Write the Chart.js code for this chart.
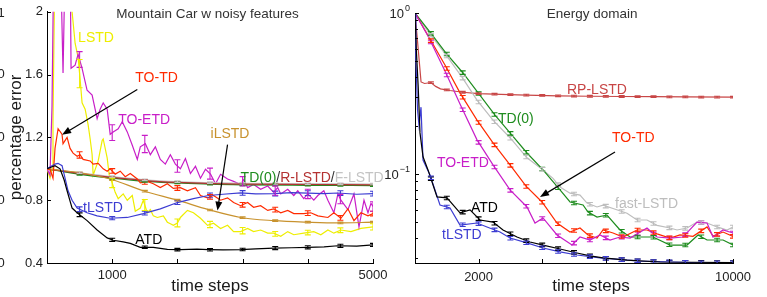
<!DOCTYPE html>
<html>
<head>
<meta charset="utf-8">
<script src="https://cdn.jsdelivr.net/npm/chart.js@4.4.0/dist/chart.umd.min.js"></script>
<style>
  html, body { margin: 0; padding: 0; background: #fff; }
  #wrap { position: relative; width: 767px; height: 297px; overflow: hidden; background: #fff; }
  #wrap canvas { position: absolute; left: 0; top: 0; }
</style>
</head>
<body>
<div id="wrap">
  <canvas id="mcChart" width="767" height="297"></canvas>
  <canvas id="enChart" width="767" height="297"></canvas>
</div>
<script>
// ---- Mountain Car (left) : [time step, percentage error]
const mcTicksX = [1000, 2000, 3000, 4000, 5000];
const mcLabelsX = [1000, 5000];
const mcTicksY = [0.4, 0.8, 1.2, 1.6, 2];
const mcErrT = [500, 1000, 1500, 2000, 2500, 3000, 3500, 4000, 4500, 5000];

const mcLSTD = [[0,1.0],[46,0.94],[77,1.0],[92,1.3],[123,2.4],[200,2.6],[300,2.3],[385,2.0],[431,1.8],[477,1.71],[508,1.57],[538,1.42],[585,1.38],[631,1.28],[662,1.19],[692,1.09],[708,0.96],[785,1.05],[846,1.18],[862,1.19],[923,1.07],[954,0.96],[1000,0.91],[1046,0.85],[1092,0.81],[1169,0.84],[1231,0.80],[1308,0.83],[1354,0.73],[1431,0.75],[1477,0.80],[1538,0.72],[1585,0.74],[1631,0.70],[1692,0.69],[1785,0.70],[1846,0.66],[1892,0.65],[1938,0.64],[2000,0.655],[2046,0.69],[2154,0.735],[2246,0.72],[2354,0.685],[2462,0.64],[2554,0.653],[2662,0.62],[2769,0.64],[2862,0.60],[2969,0.60],[3077,0.62],[3169,0.60],[3277,0.61],[3385,0.59],[3477,0.59],[3585,0.57],[3692,0.60],[3785,0.58],[3938,0.59],[4092,0.60],[4200,0.58],[4308,0.61],[4400,0.59],[4508,0.61],[4662,0.60],[4815,0.62],[5000,0.63]];
const mcTOTD = [[0,1.0],[46,0.997],[92,0.94],[123,1.13],[170,1.255],[230,1.22],[246,1.16],[308,1.2],[354,1.13],[400,1.10],[462,1.08],[508,1.09],[554,1.06],[662,1.05],[708,1.03],[785,1.035],[862,1.0],[923,0.985],[969,1.0],[1046,0.966],[1123,0.985],[1200,0.95],[1277,0.97],[1385,0.935],[1431,0.91],[1538,0.92],[1631,0.905],[1738,0.88],[1846,0.905],[1938,0.875],[2046,0.88],[2154,0.86],[2277,0.88],[2354,0.83],[2462,0.815],[2554,0.83],[2662,0.80],[2769,0.815],[2862,0.785],[2969,0.765],[3077,0.785],[3169,0.755],[3277,0.765],[3385,0.735],[3477,0.745],[3585,0.72],[3692,0.735],[3785,0.715],[3938,0.715],[4046,0.72],[4154,0.70],[4308,0.69],[4400,0.72],[4508,0.685],[4615,0.745],[4708,0.67],[4815,0.72],[4923,0.70],[5000,0.715]];
const mcTOETD = [[0,1.0],[46,0.96],[77,1.4],[108,2.5],[154,2.7],[215,2.2],[246,1.61],[277,2.3],[323,2.5],[354,2.4],[369,1.64],[431,1.66],[477,1.73],[538,1.64],[615,1.50],[692,1.47],[738,1.38],[769,1.32],[815,1.38],[862,1.42],[923,1.38],[969,1.22],[1015,1.235],[1092,1.255],[1154,1.30],[1231,1.235],[1308,1.15],[1385,1.06],[1431,1.14],[1508,1.16],[1585,1.09],[1662,1.14],[1738,1.06],[1815,1.03],[1892,1.09],[1969,1.03],[2046,1.0],[2123,1.065],[2200,0.97],[2277,1.016],[2354,0.94],[2431,0.997],[2508,0.966],[2585,0.905],[2662,0.965],[2769,0.935],[2862,0.92],[2969,0.90],[3015,0.93],[3077,0.88],[3169,0.90],[3277,0.87],[3385,0.89],[3477,0.85],[3538,0.88],[3585,0.84],[3692,0.87],[3785,0.83],[3846,0.86],[3938,0.81],[4000,0.84],[4092,0.80],[4154,0.83],[4246,0.86],[4308,0.80],[4400,0.72],[4462,0.84],[4508,0.80],[4615,0.74],[4708,0.84],[4785,0.63],[4862,0.80],[4923,0.72],[4969,0.78],[5000,0.76]];
const mcILSTD = [[0,1.0],[500,0.975],[969,0.935],[1477,0.86],[2000,0.80],[2477,0.74],[2970,0.69],[3477,0.67],[4000,0.66],[4460,0.655],[5000,0.66]];
const mcTD0 = [[0,1.0],[500,0.965],[1000,0.94],[1500,0.92],[2000,0.91],[2500,0.902],[3000,0.898],[4000,0.895],[5000,0.893]];
const mcRLSTD = [[0,1.0],[500,0.97],[1000,0.945],[1500,0.925],[2000,0.913],[2500,0.906],[3000,0.902],[4000,0.9],[5000,0.898]];
const mcFLSTD = [[0,1.0],[500,0.975],[1000,0.95],[1500,0.93],[2000,0.918],[2500,0.912],[3000,0.908],[4000,0.905],[5000,0.903]];
const mcTLSTD = [[0,1.0],[123,1.03],[169,1.035],[231,1.02],[277,0.94],[323,0.86],[385,0.80],[462,0.75],[615,0.72],[769,0.70],[969,0.685],[1231,0.69],[1477,0.715],[1738,0.745],[2000,0.785],[2246,0.81],[2477,0.83],[2700,0.838],[2970,0.847],[3200,0.84],[3477,0.842],[3750,0.848],[4000,0.845],[4250,0.842],[4460,0.846],[4750,0.838],[5000,0.842]];
const mcATD = [[0,1.0],[123,1.02],[200,1.0],[262,0.93],[308,0.86],[385,0.75],[462,0.72],[615,0.67],[769,0.61],[923,0.56],[1015,0.545],[1169,0.535],[1277,0.525],[1431,0.50],[1631,0.50],[1846,0.487],[2046,0.485],[2300,0.488],[2477,0.485],[2700,0.483],[2970,0.485],[3200,0.49],[3477,0.495],[3750,0.497],[4000,0.50],[4250,0.503],[4460,0.51],[4750,0.508],[5000,0.515]];

// half widths of the error bars at mcErrT
const mcLSTDErr = [0.09, 0.03, 0.035, 0.025, 0.02, 0.02, 0.015, 0.015, 0.015, 0.02];
const mcTOTDErr = [0.02, 0.015, 0.015, 0.015, 0.015, 0.015, 0.015, 0.015, 0.015, 0.015];
const mcTOETDErr = [0.05, 0.05, 0.055, 0.04, 0.035, 0.03, 0.03, 0.03, 0.03, 0.03];
const mcTLSTDErr = [0.015, 0.01, 0.012, 0.012, 0.015, 0.015, 0.015, 0.015, 0.015, 0.015];
const mcATDErr = [0.012, 0.01, 0.008, 0.008, 0.008, 0.008, 0.01, 0.01, 0.01, 0.01];
const mcSmallErr = 0.005;

// ---- Energy domain (right), log y
const enTicksX = [2000, 4000, 6000, 8000, 10000];
const enLabelsX = [2000, 10000];
const enMajorY = [0.1, 1];
const enMinorY = [0.03, 0.04, 0.05, 0.06, 0.07, 0.08, 0.09, 0.2, 0.3, 0.4, 0.5, 0.6, 0.7, 0.8, 0.9];
const enErrT = [500,1000,1500,2000,2500,3000,3500,4000,4500,5000,5500,6000,6500,7000,7500,8000,8500,9000,9500,10000];

const enRPLSTD = [[0,1.0],[100,0.6],[190,0.373],[300,0.365],[500,0.37],[650,0.35],[800,0.338],[1100,0.33],[1500,0.322],[2000,0.316],[2700,0.312],[3500,0.309],[4500,0.306],[5500,0.304],[6500,0.303],[7500,0.302],[8500,0.301],[10000,0.30]];
const enTD0 = [[0,1.0],[472,0.76],[975,0.564],[1510,0.424],[2516,0.232],[2988,0.18],[3522,0.135],[4026,0.106],[4560,0.0796],[4875,0.067],[5284,0.0642],[5441,0.058],[5724,0.054],[6038,0.0556],[6447,0.0449],[6761,0.0406],[7485,0.0406],[8020,0.0362],[8554,0.0362],[8900,0.0418],[9184,0.0389],[9687,0.0389],[10000,0.0362]];
const enFastLSTD = [[0,1.0],[472,0.74],[975,0.55],[1478,0.40],[1950,0.288],[2453,0.216],[2988,0.168],[3522,0.126],[4026,0.106],[4340,0.094],[4560,0.083],[4875,0.076],[5189,0.074],[5409,0.066],[5724,0.0624],[5913,0.064],[6227,0.061],[6667,0.057],[6982,0.0518],[7296,0.0518],[7611,0.048],[8020,0.0462],[8240,0.0449],[8554,0.0462],[8869,0.0503],[9184,0.0496],[9498,0.0469],[9813,0.0449],[10000,0.0469]];
const enTOTD = [[0,1.0],[943,0.475],[1415,0.319],[1950,0.216],[2453,0.156],[2988,0.114],[3491,0.084],[3994,0.067],[4466,0.0496],[4875,0.0436],[5189,0.0462],[5441,0.0418],[5724,0.040],[5913,0.0449],[6227,0.043],[6542,0.0406],[6982,0.0449],[7296,0.0449],[7611,0.0425],[8020,0.040],[8334,0.0418],[8743,0.041],[9184,0.0469],[9372,0.0412],[9687,0.0436],[10000,0.041]];
const enTOETD = [[0,1.0],[409,0.72],[943,0.436],[1415,0.272],[1950,0.163],[2453,0.114],[2988,0.0796],[3522,0.0624],[3774,0.0496],[4026,0.0533],[4466,0.0418],[4938,0.0362],[5189,0.0406],[5504,0.0389],[5818,0.0418],[6133,0.0389],[6447,0.0406],[6761,0.040],[7296,0.0462],[7611,0.0406],[8020,0.040],[8429,0.0406],[8869,0.0503],[9184,0.0496],[9372,0.0406],[9687,0.0449],[10000,0.043]];
const enATD = [[0,1.0],[40,0.6],[100,0.35],[157,0.18],[252,0.128],[409,0.106],[692,0.072],[1006,0.071],[1415,0.0573],[1730,0.0598],[2044,0.0518],[2453,0.0503],[2768,0.0449],[3208,0.0406],[3617,0.0378],[4026,0.0362],[4560,0.0342],[5095,0.0323],[5504,0.031],[5913,0.0301],[6667,0.0292],[7705,0.0284],[8743,0.0283],[10000,0.0282]];
const enTLSTD = [[0,1.0],[30,0.5],[80,0.25],[126,0.2],[189,0.26],[252,0.122],[472,0.0986],[786,0.0642],[1101,0.0615],[1415,0.0482],[1950,0.0496],[2264,0.0469],[2673,0.0436],[2988,0.040],[3522,0.0373],[4026,0.0347],[4560,0.0328],[5095,0.0314],[5818,0.0301],[7075,0.0288],[8963,0.0281],[10000,0.0281]];
const enErr = 0.025;

const FONT = "'Liberation Sans', Arial, Helvetica, sans-serif";
const C = {
  yellow: '#eeee00', red: '#ff2a00', magenta: '#c81ec8', orange: '#c8922e',
  green: '#1e8c1e', darkred: '#b43232', gray: '#c4c4c4', blue: '#3c3cd2',
  black: '#000000', rp: '#c84646', fast: '#bdbdbd'
};

function valueAt(data, t, isLog) {
  for (let i = 1; i < data.length; i++) {
    const [x0, y0] = data[i - 1], [x1, y1] = data[i];
    if (t <= x1) {
      const f = (t - x0) / (x1 - x0);
      return isLog ? Math.exp(Math.log(y0) + f * (Math.log(y1) - Math.log(y0))) : y0 + f * (y1 - y0);
    }
  }
  return data[data.length - 1][1];
}

function series(label, data, color, err, smooth) {
  return {
    label, data, err,
    borderColor: color, backgroundColor: color,
    borderWidth: 1.2, pointRadius: 0, fill: false,
    tension: 0, cubicInterpolationMode: smooth ? 'monotone' : 'default'
  };
}

// error bars, inward ticks, labels, arrows, titles
const decor = {
  id: 'decor',
  afterDatasetsDraw(chart, args, o) {
    const { ctx, chartArea: a, scales: { x, y } } = chart;
    const isLog = y.type === 'logarithmic';
    ctx.save();
    ctx.beginPath();
    ctx.rect(a.left, a.top - 1, a.right - a.left, a.bottom - a.top + 1);
    ctx.clip();
    ctx.lineWidth = 1.1;
    chart.data.datasets.forEach(ds => {
      if (ds.err === undefined) return;
      o.errT.forEach((t, i) => {
        const v = valueAt(ds.data, t, isLog);
        const e = Array.isArray(ds.err) ? ds.err[i] : ds.err;
        const lo = isLog ? v * (1 - e) : v - e;
        const hi = isLog ? v * (1 + e) : v + e;
        const px = x.getPixelForValue(t);
        const p1 = y.getPixelForValue(lo), p2 = y.getPixelForValue(hi);
        ctx.strokeStyle = ds.borderColor;
        ctx.beginPath();
        ctx.moveTo(px, p1); ctx.lineTo(px, p2);
        ctx.moveTo(px - 3, p1); ctx.lineTo(px + 3, p1);
        ctx.moveTo(px - 3, p2); ctx.lineTo(px + 3, p2);
        ctx.stroke();
      });
    });
    ctx.restore();
  },
  afterDraw(chart, args, o) {
    const { ctx, chartArea: a, scales: { x, y } } = chart;
    ctx.save();
    // inward ticks
    ctx.strokeStyle = '#000';
    ctx.lineWidth = 1;
    x.ticks.forEach(tk => {
      const px = Math.round(x.getPixelForValue(tk.value)) + 0.5;
      ctx.beginPath(); ctx.moveTo(px, a.bottom); ctx.lineTo(px, a.bottom - 4); ctx.stroke();
    });
    y.ticks.forEach(tk => {
      const py = Math.round(y.getPixelForValue(tk.value)) + 0.5;
      ctx.beginPath(); ctx.moveTo(a.left, py); ctx.lineTo(a.left + 4, py); ctx.stroke();
    });
    (o.minorY || []).forEach(v => {
      const py = Math.round(y.getPixelForValue(v)) + 0.5;
      ctx.beginPath(); ctx.moveTo(a.left, py); ctx.lineTo(a.left + 3, py); ctx.stroke();
    });

    // powers of ten for the log axis
    (o.powLabels || []).forEach(v => {
      const py = y.getPixelForValue(v);
      const ex = String(Math.round(Math.log10(v))).replace('-', '\u2212');
      ctx.fillStyle = '#222';
      ctx.textBaseline = 'middle';
      ctx.textAlign = 'right';
      ctx.font = `9px ${FONT}`;
      const ew = ctx.measureText(ex).width;
      ctx.fillText(ex, a.left - 5, py - 4);
      ctx.font = `13px ${FONT}`;
      ctx.fillText('10', a.left - 6 - ew, py + 1);
    });

    // cut-off labels of the neighbouring panel
    ctx.font = `13px ${FONT}`;
    ctx.fillStyle = '#222';
    ctx.textAlign = 'left';
    ctx.textBaseline = 'middle';
    (o.edge || []).forEach(e => ctx.fillText(e.text, -2.5, y.getPixelForValue(e.v)));

    // series labels
    ctx.font = `14px ${FONT}`;
    o.labels.forEach(l => {
      let px = x.getPixelForValue(l.t);
      const py = y.getPixelForValue(l.y);
      l.parts.forEach(p => {
        ctx.fillStyle = p.color;
        ctx.fillText(p.text, px, py);
        px += ctx.measureText(p.text).width;
      });
    });

    // arrows
    ctx.strokeStyle = '#000';
    ctx.fillStyle = '#000';
    ctx.lineWidth = 1.2;
    o.arrows.forEach(ar => {
      const x0 = x.getPixelForValue(ar.from[0]), y0 = y.getPixelForValue(ar.from[1]);
      const x1 = x.getPixelForValue(ar.to[0]), y1 = y.getPixelForValue(ar.to[1]);
      const ang = Math.atan2(y1 - y0, x1 - x0);
      const c = Math.cos(ang), s = Math.sin(ang);
      ctx.beginPath();
      ctx.moveTo(x0, y0);
      ctx.lineTo(x1 - 6 * c, y1 - 6 * s);
      ctx.stroke();
      ctx.beginPath();
      ctx.moveTo(x1, y1);
      ctx.lineTo(x1 - 9 * c + 3.5 * s, y1 - 9 * s - 3.5 * c);
      ctx.lineTo(x1 - 9 * c - 3.5 * s, y1 - 9 * s + 3.5 * c);
      ctx.closePath();
      ctx.fill();
    });

    // titles
    ctx.textAlign = 'center';
    ctx.fillStyle = '#333';
    ctx.font = `13.5px ${FONT}`;
    ctx.fillText(o.title.text, x.getPixelForValue(o.title.t), 14);
    ctx.fillStyle = '#1a1a1a';
    ctx.font = `17px ${FONT}`;
    ctx.fillText(o.xTitle.text, x.getPixelForValue(o.xTitle.t), 286);
    if (o.yTitle) {
      ctx.translate(16, (a.top + a.bottom) / 2);
      ctx.rotate(-Math.PI / 2);
      ctx.fillText(o.yTitle, 0, 0);
    }
    ctx.restore();
  }
};

function axisX(min, max, ticks, labels, pad) {
  return {
    type: 'linear', min, max,
    afterBuildTicks: s => { s.ticks = ticks.map(v => ({ value: v })); },
    afterFit: s => { s.height = 34; },
    ticks: {
      autoSkip: false, maxRotation: 0, padding: pad, color: '#222',
      font: { family: FONT, size: 13 },
      callback: v => labels.includes(v) ? String(v) : ''
    },
    grid: { display: true, drawOnChartArea: false, drawTicks: false },
    border: { display: true, color: '#000', width: 1 }
  };
}

const mcDatasets = [
  series('ATD', mcATD, C.black, mcATDErr),
  series('tLSTD', mcTLSTD, C.blue, mcTLSTDErr),
  series('TO-TD', mcTOTD, C.red, mcTOTDErr),
  series('iLSTD', mcILSTD, C.orange, mcSmallErr, true),
  series('R-LSTD', mcRLSTD, C.darkred, mcSmallErr, true),
  series('TD(0)', mcTD0, C.green, mcSmallErr, true),
  series('F-LSTD', mcFLSTD, C.gray, mcSmallErr, true),
  series('TO-ETD', mcTOETD, C.magenta, mcTOETDErr),
  series('LSTD', mcLSTD, C.yellow, mcLSTDErr)
];

new Chart(document.getElementById('mcChart'), {
  type: 'line',
  data: { datasets: mcDatasets },
  options: {
    responsive: false, animation: false, devicePixelRatio: 1,
    layout: { padding: { left: 0, top: 8, right: 394, bottom: 0 } },
    plugins: {
      legend: { display: false }, tooltip: { enabled: false },
      decor: {
        errT: mcErrT,
        title: { text: 'Mountain Car w noisy features', t: 2462 },
        xTitle: { text: 'time steps', t: 2500 },
        yTitle: 'percentage error',
        edge: [{ text: '1', v: 1.99 }, { text: '0', v: 1.6 }, { text: '0', v: 1.2 }, { text: '0', v: 0.8 }, { text: '0', v: 0.4 }],
        labels: [
          { t: 477, y: 1.831, parts: [{ text: 'LSTD', color: C.yellow }] },
          { t: 1354, y: 1.58, parts: [{ text: 'TO-TD', color: C.red }] },
          { t: 1092, y: 1.31, parts: [{ text: 'TO-ETD', color: C.magenta }] },
          { t: 2508, y: 1.223, parts: [{ text: 'iLSTD', color: C.orange }] },
          { t: 2969, y: 0.941, parts: [
            { text: 'TD(0)', color: C.green }, { text: '/', color: '#333' },
            { text: 'R-LSTD', color: C.darkred }, { text: '/', color: '#333' },
            { text: 'F-LSTD', color: C.gray }] },
          { t: 554, y: 0.747, parts: [{ text: 'tLSTD', color: C.blue }] },
          { t: 1354, y: 0.546, parts: [{ text: 'ATD', color: C.black }] }
        ],
        arrows: [
          { from: [1385, 1.505], to: [231, 1.217] },
          { from: [2769, 1.154], to: [2615, 0.734] }
        ]
      }
    },
    scales: {
      x: axisX(0, 5000, mcTicksX, mcLabelsX, 5),
      y: {
        type: 'linear', min: 0.4, max: 2,
        afterBuildTicks: s => { s.ticks = mcTicksY.map(v => ({ value: v })); },
        afterFit: s => { s.width = 47; },
        ticks: { padding: 4, color: '#222', font: { family: FONT, size: 13 }, callback: v => String(Number(v.toFixed(1))) },
        grid: { display: true, drawOnChartArea: false, drawTicks: false },
        border: { display: true, color: '#000', width: 1 }
      }
    }
  },
  plugins: [decor]
});

const enDatasets = [
  series('ATD', enATD, C.black, enErr),
  series('tLSTD', enTLSTD, C.blue, enErr),
  series('TO-ETD', enTOETD, C.magenta, enErr),
  series('TO-TD', enTOTD, C.red, enErr),
  series('TD(0)', enTD0, C.green, enErr),
  series('fast-LSTD', enFastLSTD, C.fast, enErr),
  series('RP-LSTD', enRPLSTD, C.rp, 0.012)
];

new Chart(document.getElementById('enChart'), {
  type: 'line',
  data: { datasets: enDatasets },
  options: {
    responsive: false, animation: false, devicePixelRatio: 1,
    layout: { padding: { left: 0, top: 13, right: 34, bottom: 0 } },
    plugins: {
      legend: { display: false }, tooltip: { enabled: false },
      decor: {
        errT: enErrT,
        minorY: enMinorY,
        powLabels: enMajorY,
        title: { text: 'Energy domain', t: 5567 },
        xTitle: { text: 'time steps', t: 5535 },
        labels: [
          { t: 4780, y: 0.332, parts: [{ text: 'RP-LSTD', color: C.rp }] },
          { t: 2610, y: 0.22, parts: [{ text: 'TD(0)', color: C.green }] },
          { t: 6196, y: 0.167, parts: [{ text: 'TO-TD', color: C.red }] },
          { t: 692, y: 0.117, parts: [{ text: 'TO-ETD', color: C.magenta }] },
          { t: 1761, y: 0.0616, parts: [{ text: 'ATD', color: C.black }] },
          { t: 849, y: 0.0418, parts: [{ text: 'tLSTD', color: C.blue }] },
          { t: 6290, y: 0.0654, parts: [{ text: 'fast-LSTD', color: C.fast }] }
        ],
        arrows: [{ from: [6290, 0.137], to: [3931, 0.072] }]
      }
    },
    scales: {
      x: axisX(0, 10000, enTicksX, enLabelsX, 7),
      y: {
        type: 'logarithmic', min: 0.028, max: 1,
        afterBuildTicks: s => { s.ticks = enMajorY.map(v => ({ value: v })); },
        afterFit: s => { s.width = 415; },
        ticks: { display: true, callback: () => '', font: { family: FONT, size: 13 } },
        grid: { display: true, drawOnChartArea: false, drawTicks: false },
        border: { display: true, color: '#000', width: 1 }
      }
    }
  },
  plugins: [decor]
});
</script>
</body>
</html>
